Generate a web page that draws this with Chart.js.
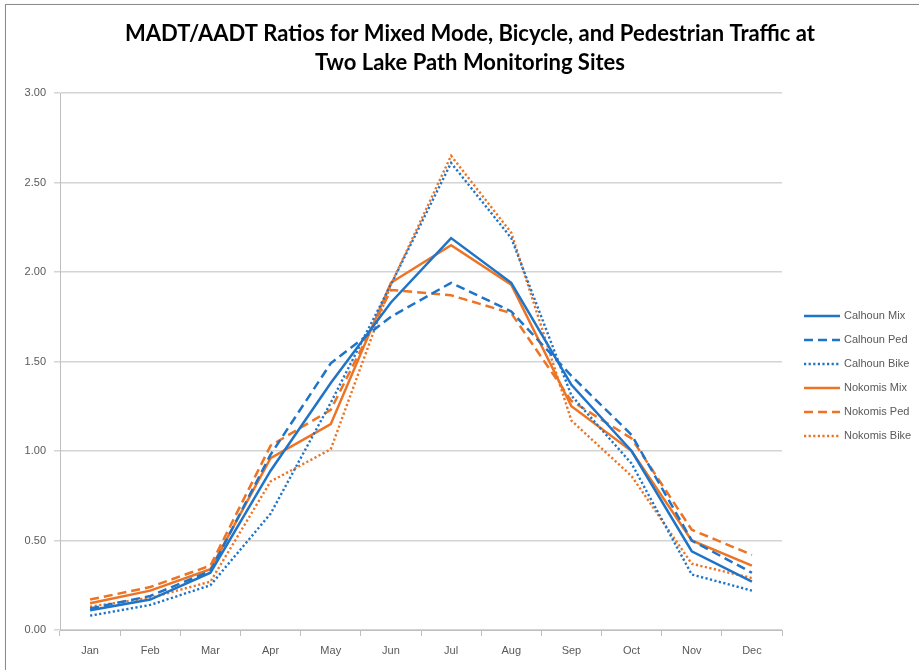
<!DOCTYPE html>
<html>
<head>
<meta charset="utf-8">
<script src="https://cdn.jsdelivr.net/npm/chart.js@4"></script>
<style>
  body { margin: 0; background: #fff; }
  #wrap { position: relative; width: 919px; height: 670px; overflow: hidden; }
  #frame { position: absolute; left: 5px; top: 4px; width: 1000px; height: 1000px;
           border: 1px solid #8c8c8c; box-shadow: 1px 1px 2px #bbb; }
  canvas { position: absolute; left: 0; top: 0; }
</style>
</head>
<body>
<div id="wrap">
  <div id="frame"></div>
  <canvas id="lineChart" width="919" height="670"></canvas>
</div>
<script>
// Month labels and the six ratio series
const months = ['Jan', 'Feb', 'Mar', 'Apr', 'May', 'Jun', 'Jul', 'Aug', 'Sep', 'Oct', 'Nov', 'Dec'];
const calhounMix  = [0.11, 0.17, 0.32, 0.89, 1.38, 1.83, 2.19, 1.94, 1.37, 1.00, 0.44, 0.27];
const calhounPed  = [0.12, 0.19, 0.33, 0.98, 1.49, 1.75, 1.94, 1.78, 1.42, 1.09, 0.50, 0.32];
const calhounBike = [0.08, 0.14, 0.25, 0.65, 1.27, 1.93, 2.61, 2.19, 1.31, 0.93, 0.31, 0.22];
const nokomisMix  = [0.15, 0.22, 0.34, 0.96, 1.15, 1.94, 2.15, 1.93, 1.25, 1.00, 0.50, 0.36];
const nokomisPed  = [0.17, 0.24, 0.36, 1.03, 1.23, 1.90, 1.87, 1.77, 1.28, 1.07, 0.56, 0.42];
const nokomisBike = [0.13, 0.18, 0.27, 0.83, 1.01, 1.93, 2.65, 2.22, 1.17, 0.86, 0.37, 0.29];

const blue = '#1f74c8';
const orange = '#ec7424';
const textGrey = '#595959';
const fontName = "'Liberation Sans', Arial, sans-serif";

// line styles
const solid = [];
const dashed = [9, 5];
const dotted = [2.2, 2.4];

function series(label, data, color, dash, width) {
    return {
        label: label,
        data: data,
        borderColor: color,
        backgroundColor: color,
        borderWidth: width,
        borderDash: dash,
        fill: false,
        tension: 0,
        pointRadius: 0,
        pointHoverRadius: 0
    };
}

// Draws the legend on the right side by hand, so the line samples match the series
const sideLegend = {
    id: 'sideLegend',
    afterDraw(chart) {
        const ctx = chart.ctx;
        const startY = 316;
        const step = 24;
        ctx.save();
        ctx.font = '11px ' + fontName;
        ctx.textBaseline = 'middle';
        ctx.fillStyle = textGrey;
        chart.data.datasets.forEach((ds, i) => {
            const y = startY + i * step;
            ctx.beginPath();
            ctx.strokeStyle = ds.borderColor;
            ctx.lineWidth = ds.borderWidth;
            ctx.setLineDash(ds.borderDash);
            ctx.moveTo(804, y);
            ctx.lineTo(840, y);
            ctx.stroke();
            ctx.setLineDash([]);
            ctx.fillText(ds.label, 844, y);
        });
        ctx.restore();
    }
};

const ctx = document.getElementById('lineChart').getContext('2d');
const chart = new Chart(ctx, {
    type: 'line',
    data: {
        labels: months,
        datasets: [
            series('Calhoun Mix', calhounMix, blue, solid, 2.5),
            series('Calhoun Ped', calhounPed, blue, dashed, 2.5),
            series('Calhoun Bike', calhounBike, blue, dotted, 2.4),
            series('Nokomis Mix', nokomisMix, orange, solid, 2.5),
            series('Nokomis Ped', nokomisPed, orange, dashed, 2.5),
            series('Nokomis Bike', nokomisBike, orange, dotted, 2.4)
        ]
    },
    options: {
        responsive: false,
        animation: false,
        layout: { padding: { left: 21, right: 0, top: 0, bottom: 0 } },
        plugins: {
            legend: { display: false },
            tooltip: { enabled: false },
            title: {
                display: true,
                text: ['MADT/AADT Ratios for Mixed Mode, Bicycle, and Pedestrian Traffic at',
                       'Two Lake Path Monitoring Sites'],
                color: '#000',
                font: { family: "Lato, 'Liberation Sans', sans-serif", size: 22, weight: 'bold', lineHeight: 1.32 },
                padding: { top: 19, bottom: 16 }
            }
        },
        scales: {
            x: {
                offset: true,
                afterFit(scale) { scale.height = 40; },
                grid: {
                    offset: true,
                    drawOnChartArea: false,
                    drawTicks: true,
                    tickLength: 6,
                    color: '#bfbfbf',
                    lineWidth: 1
                },
                border: { color: '#bfbfbf', width: 1 },
                ticks: {
                    color: textGrey,
                    padding: 8,
                    maxRotation: 0,
                    font: { family: fontName, size: 11 }
                }
            },
            y: {
                min: 0,
                max: 3,
                afterFit(scale) { scale.width = 39; },
                grid: {
                    color: '#d4d4d4',
                    lineWidth: 1.5,
                    tickLength: 6
                },
                border: { color: '#bfbfbf', width: 1 },
                ticks: {
                    stepSize: 0.5,
                    color: textGrey,
                    padding: 8,
                    font: { family: fontName, size: 11 },
                    callback: v => v.toFixed(2)
                }
            },
            // empty axis that only reserves the space where the legend is drawn
            legendSpace: {
                type: 'linear',
                position: 'right',
                afterFit(scale) { scale.width = 137; },
                grid: { display: false, drawTicks: false },
                border: { display: false },
                ticks: { display: false }
            }
        }
    },
    plugins: [sideLegend]
});
</script>
</body>
</html>
